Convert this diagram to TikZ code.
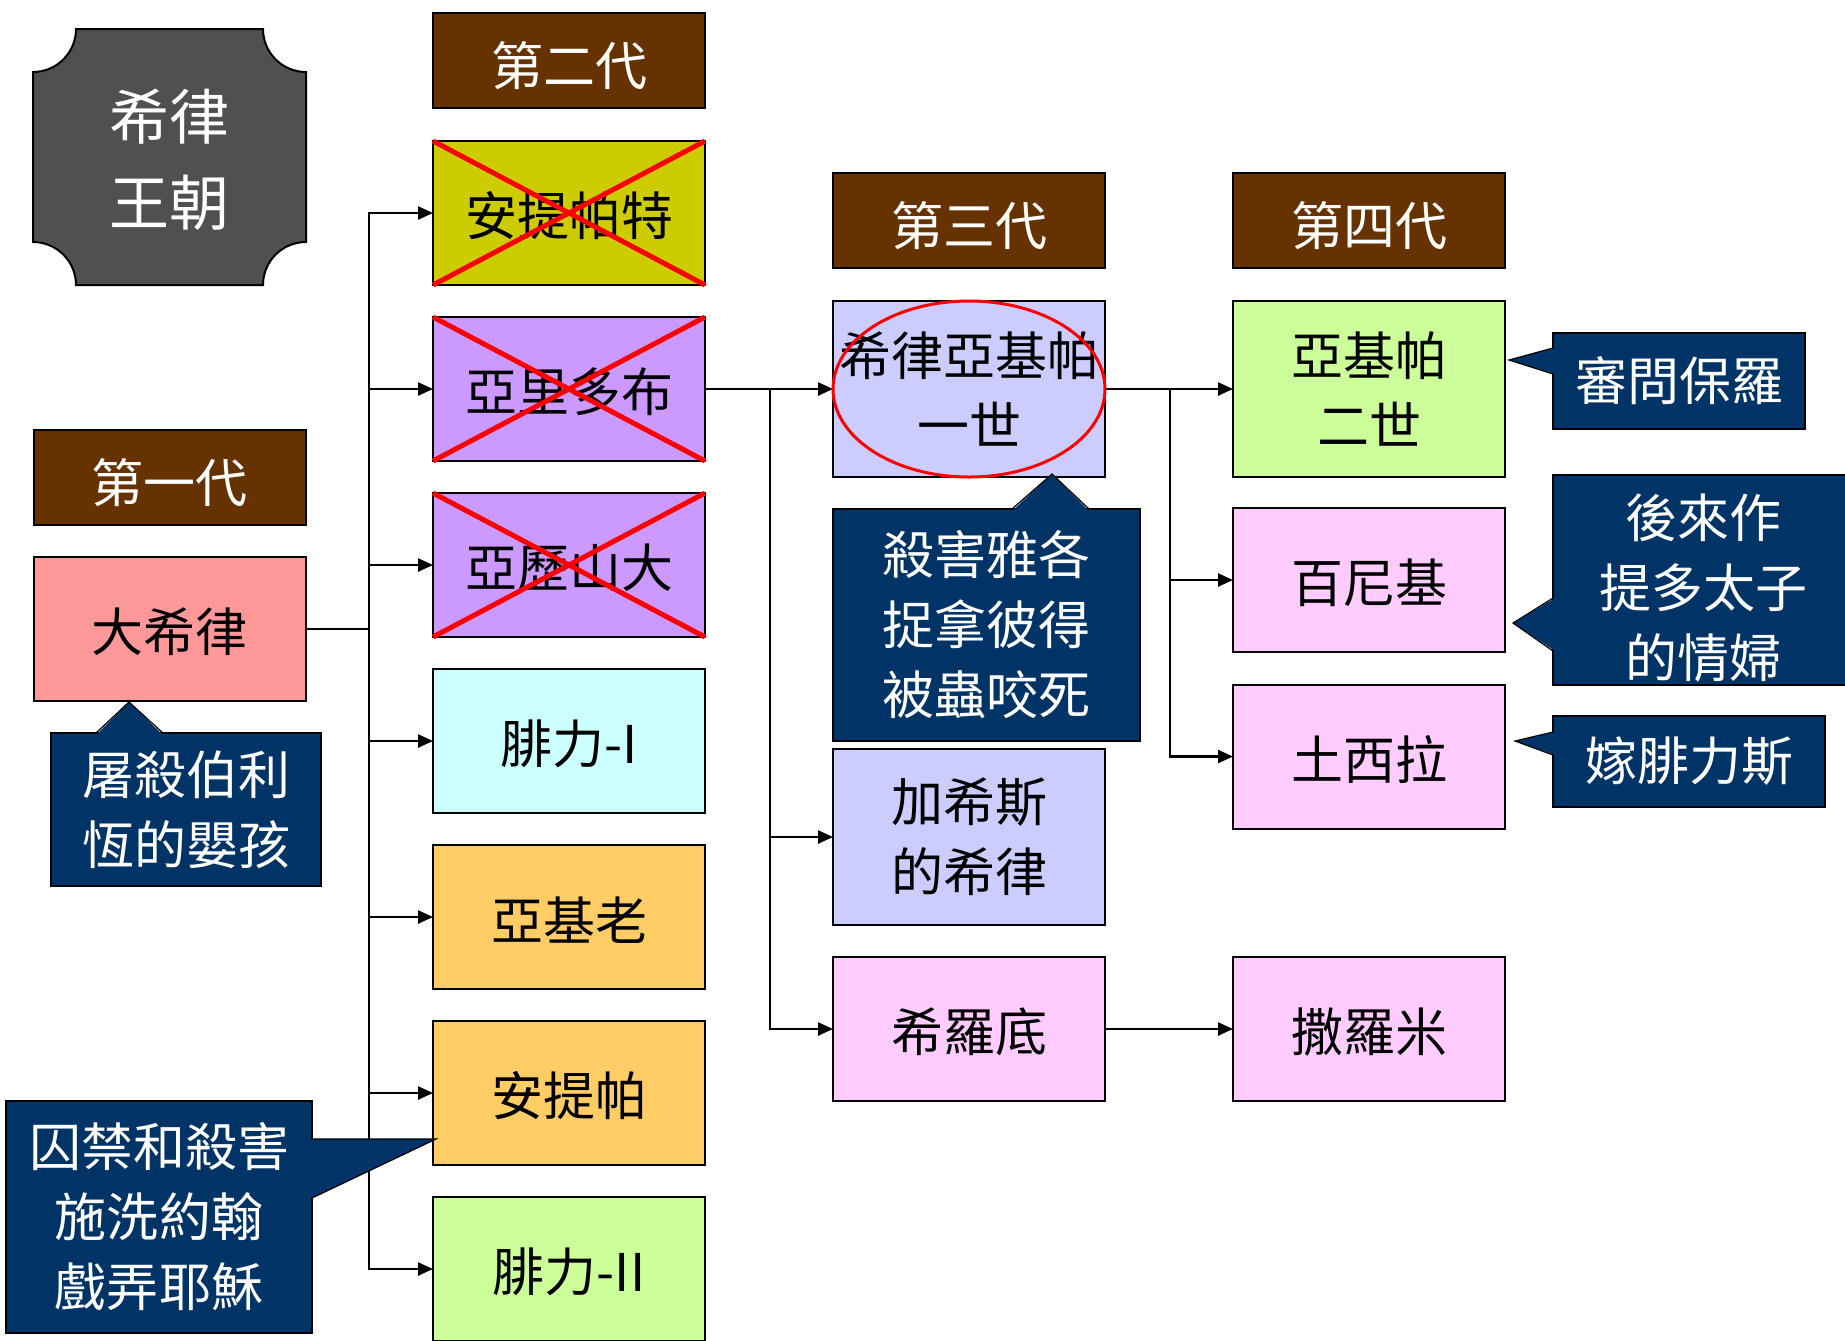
\documentclass[tikz,border=0pt]{standalone}
\usepackage{fontspec}
\setmainfont{Noto Sans CJK TC}
\usetikzlibrary{arrows.meta}

\begin{document}
\begin{tikzpicture}[x=0.5pt,y=0.5pt,yscale=-1,xscale=1,
  box/.style={draw, line width=1pt, inner sep=0pt, outer sep=0pt, minimum width=136pt, minimum height=72pt, align=center, font=\fontsize{26pt}{35pt}\selectfont, execute at begin node={\rule{0pt}{25pt}}},
  tallbox/.style={box, minimum height=88pt},
  gen/.style={box, minimum height=47.5pt, fill={rgb, 255:red, 102; green, 51; blue, 0 }, text=white, execute at begin node={\rule{0pt}{27.5pt}}},
  note/.style={draw=black, line width=0.6pt, fill={rgb, 255:red, 0; green, 51; blue, 102 }, text=white, inner sep=0pt, outer sep=0pt, align=center, font=\fontsize{26pt}{35pt}\selectfont},
  tip/.style={fill={rgb, 255:red, 0; green, 51; blue, 102 }},
  tipline/.style={draw=black, line width=0.6pt},
  link/.style={line width=1.2pt, -{Triangle[length=7.5pt,width=6.5pt]}},
  cross/.style={draw={rgb, 255:red, 255; green, 0; blue, 0 }, line width=2.5pt}
]
\useasboundingbox (0,0) rectangle (1845,1340);

%Shape: Plaque
\draw [line width=1pt, fill={rgb, 255:red, 80; green, 80; blue, 80 }] (76,29) -- (263,29) .. controls (263,52.7) and (282.3,72) .. (306,72) -- (306,242) .. controls (282.3,242) and (263,261.3) .. (263,285) -- (76,285) .. controls (76,261.3) and (56.7,242) .. (33,242) -- (33,72) .. controls (56.7,72) and (76,52.7) .. (76,29) -- cycle ;
% Text Node
\node [text=white, align=center, font=\fontsize{30pt}{43pt}\selectfont] (dynasty) at (169.5,160) {希律\\王朝};

% Generations
\node [gen] (gen1) at (169.5,477) {第一代};
\node [gen] (gen2) at (569,60.5) {第二代};
\node [gen] (gen3) at (969,220.5) {第三代};
\node [gen] (gen4) at (1369,220.5) {第四代};

% First generation
\node [box, fill={rgb, 255:red, 255; green, 153; blue, 153 }] (herod) at (169.5,629) {大希律};

% Second generation
\node [box, fill={rgb, 255:red, 204; green, 204; blue, 0 }] (antipater) at (569,213) {安提帕特};
\node [box, fill={rgb, 255:red, 204; green, 153; blue, 255 }] (aristobulus) at (569,389) {亞里多布};
\node [box, fill={rgb, 255:red, 204; green, 153; blue, 255 }] (alexander) at (569,565) {亞歷山大};
\node [box, fill={rgb, 255:red, 204; green, 255; blue, 255 }] (philipI) at (569,741) {腓力-I};
\node [box, fill={rgb, 255:red, 255; green, 204; blue, 102 }] (archelaus) at (569,917) {亞基老};
\node [box, fill={rgb, 255:red, 255; green, 204; blue, 102 }] (antipas) at (569,1093) {安提帕};
\node [box, fill={rgb, 255:red, 204; green, 255; blue, 153 }] (philipII) at (569,1269) {腓力-II};

% Third generation
\node [tallbox, fill={rgb, 255:red, 204; green, 204; blue, 255 }] (agrippaI) at (969,389) {希律亞基帕\\一世};
\node [tallbox, fill={rgb, 255:red, 204; green, 204; blue, 255 }] (chalcis) at (969,837) {加希斯\\的希律};
\node [box, fill={rgb, 255:red, 255; green, 204; blue, 255 }] (herodias) at (969,1029) {希羅底};

% Fourth generation
\node [tallbox, fill={rgb, 255:red, 204; green, 255; blue, 153 }] (agrippaII) at (1369,389) {亞基帕\\二世};
\node [box, fill={rgb, 255:red, 255; green, 204; blue, 255 }] (bernice) at (1369,580) {百尼基};
\node [box, fill={rgb, 255:red, 255; green, 204; blue, 255 }] (drusilla) at (1369,756.5) {土西拉};
\node [box, fill={rgb, 255:red, 255; green, 204; blue, 255 }] (salome) at (1369,1029) {撒羅米};

%Straight Lines
\coordinate (bus1) at (369,629);
\coordinate (bus2) at (770,389);
\coordinate (bus3) at (1170,389);
\foreach \child in {antipater,aristobulus,alexander,philipI,archelaus,antipas,philipII}
  \draw [link] (herod.east) -- (bus1) |- (\child.west);
\foreach \child in {agrippaI,chalcis,herodias}
  \draw [link] (aristobulus.east) -- (bus2) |- (\child.west);
\foreach \child in {agrippaII,bernice,drusilla}
  \draw [link] (agrippaI.east) -- (bus3) |- (\child.west);
\draw [link] (herodias.east) -- (salome.west);

% Crossed out
\foreach \son in {antipater,aristobulus,alexander}
  \draw [cross] (\son.north west) -- (\son.south east) (\son.north east) -- (\son.south west);
%Shape: Ellipse
\draw [draw={rgb, 255:red, 255; green, 0; blue, 0 }, line width=1.5pt] (agrippaI.center) ellipse [x radius=136, y radius=88];

%Shape: Callouts
\node [note, minimum width=135pt, minimum height=76.5pt] (noteHerod) at (186,809.5) {屠殺伯利\\恆的嬰孩};
\fill [tip] (96,735) -- (129,702) -- (163,735) -- cycle;
\draw [tipline] (96,733) -- (129,702) -- (163,733);

\node [note, minimum width=153pt, minimum height=116pt] (noteAntipas) at (159,1217) {囚禁和殺害\\施洗約翰\\戲弄耶穌};
\fill [tip] (310,1139) -- (436,1139) -- (312,1198) -- (310,1198) -- cycle;
\draw [tipline] (312,1139) -- (436,1139) -- (312,1198);

\node [note, minimum width=153.5pt, minimum height=116pt] (noteAgrippaI) at (986.5,625) {殺害雅各\\捉拿彼得\\被蟲咬死};
\fill [tip] (1012,511) -- (1052,474) -- (1089,511) -- cycle;
\draw [tipline] (1012,509) -- (1052,474) -- (1089,509);

\node [note, minimum width=126pt, minimum height=48pt] (noteAgrippaII) at (1679,381) {審問保羅};
\fill [tip] (1555,348) -- (1509,360) -- (1555,374) -- cycle;
\draw [tipline] (1553,348) -- (1509,360) -- (1553,374);

\node [note, minimum width=150pt, minimum height=105pt] (noteBernice) at (1703,580) {};
\node [text=white, align=center, font=\fontsize{26pt}{35pt}\selectfont] (noteBernicetext) at (1703,588) {後來作\\提多太子\\的情婦};
\fill [tip] (1555,598) -- (1513,623) -- (1555,651) -- cycle;
\draw [tipline] (1553,598) -- (1513,623) -- (1553,651);

\node [note, minimum width=136pt, minimum height=45.5pt] (noteDrusilla) at (1689,761.5) {嫁腓力斯};
\fill [tip] (1555,732) -- (1515,741) -- (1555,755) -- cycle;
\draw [tipline] (1553,732) -- (1515,741) -- (1553,755);

\end{tikzpicture}
\end{document}
